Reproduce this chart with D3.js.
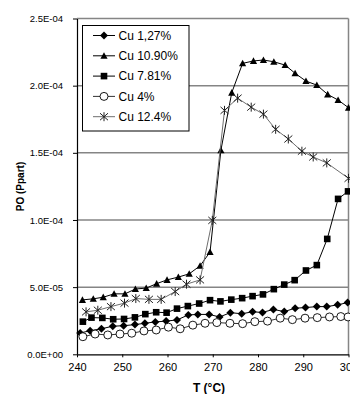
<!DOCTYPE html>
<html>
<head>
<meta charset="utf-8">
<script src="https://cdn.jsdelivr.net/npm/d3@7"></script>
<style>
  body { margin: 0; background: #fff; }
  svg { display: block; font-family: "Liberation Sans", Arial, sans-serif; }
</style>
</head>
<body>
<div id="chart"></div>
<script>
// Cu 1,27% (diamonds)
const tempCu127 = [240.7, 242.9, 245.4, 247.9, 250.3, 252.8, 255.0, 257.3, 259.7, 262.1, 264.6, 266.7, 269.2,
    271.5, 273.9, 276.4, 278.8, 281.0, 283.4, 285.8, 288.2, 290.5, 293.0, 295.2, 297.6, 299.8];
const poCu127 = [1.59, 1.75, 1.90, 2.09, 2.13, 2.21, 2.31, 2.41, 2.47, 2.56, 2.93, 2.97, 2.97,
    2.78, 3.10, 3.02, 3.16, 3.12, 3.34, 3.18, 3.43, 3.48, 3.55, 3.55, 3.68, 3.85];

// Cu 10.90% (triangles)
const tempCu1090 = [241.2, 243.6, 245.8, 248.2, 250.6, 252.9, 255.3, 257.6, 259.9, 262.4, 264.8, 267.2, 269.4,
    271.8, 274.2, 276.6, 279.0, 281.2, 283.5, 286.0, 288.2, 290.6, 293.0, 295.4, 297.7, 300.0];
const poCu1090 = [4.05, 4.13, 4.25, 4.50, 4.50, 4.86, 4.93, 5.26, 5.54, 5.75, 5.99, 6.59, 7.61,
    15.19, 19.48, 21.66, 21.84, 21.91, 21.78, 21.53, 20.92, 20.34, 20.04, 19.35, 18.93, 18.36];

// Cu 7.81% (squares)
const tempCu781 = [241.3, 243.2, 245.6, 248.0, 250.4, 252.8, 255.1, 257.5, 259.8, 262.1, 264.5, 267.0, 269.4,
    271.7, 274.1, 276.5, 278.8, 281.1, 283.5, 285.8, 288.1, 290.6, 293.0, 295.3, 297.7, 299.9];
const poCu781 = [2.43, 2.73, 2.71, 2.61, 2.63, 2.75, 2.99, 3.13, 3.10, 3.40, 3.59, 3.78, 4.03,
    3.94, 4.07, 4.18, 4.33, 4.46, 4.85, 5.19, 5.52, 6.24, 6.64, 8.59, 11.57, 12.13];

// Cu 4% (open circles)
const tempCu4 = [241.3, 244.0, 246.8, 249.5, 252.1, 254.8, 257.5, 260.2, 262.8, 265.6, 268.3, 270.9,
    273.8, 276.6, 279.3, 282.1, 284.9, 287.6, 290.4, 293.1, 295.8, 298.3, 299.9];
const poCu4 = [1.31, 1.51, 1.44, 1.51, 1.57, 1.74, 1.81, 2.02, 1.90, 2.17, 2.31, 2.36,
    2.31, 2.28, 2.43, 2.47, 2.69, 2.58, 2.69, 2.73, 2.78, 2.81, 2.78];

// Cu 12.4% (asterisks)
const tempCu124 = [242.0, 244.6, 247.5, 250.5, 253.0, 255.9, 258.6, 261.7, 264.2, 267.2, 269.9, 272.6,
    275.5, 278.5, 281.2, 283.9, 286.7, 289.7, 292.2, 295.2, 300.0];
const poCu124 = [3.16, 3.28, 3.55, 3.81, 4.15, 4.09, 4.09, 4.67, 5.22, 5.54, 9.97, 18.16,
    19.07, 18.40, 17.88, 16.75, 16.03, 15.12, 14.69, 14.25, 13.10];

const seriesNames = ['Cu 1,27%', 'Cu 10.90%', 'Cu 7.81%', 'Cu 4%', 'Cu 12.4%'];
const yTicks = [0, 5e-5, 1e-4, 1.5e-4, 2e-4, 2.5e-4];
const xTicks = [240, 250, 260, 270, 280, 290, 300];

const scaleE5 = v => v * 1e-5;
const series = [
    { name: seriesNames[0], temps: tempCu127, values: poCu127, marker: 'diamond', line: '#000' },
    { name: seriesNames[1], temps: tempCu1090, values: poCu1090, marker: 'triangle', line: '#000' },
    { name: seriesNames[2], temps: tempCu781, values: poCu781, marker: 'square', line: '#000' },
    { name: seriesNames[3], temps: tempCu4, values: poCu4, marker: 'circle', line: '#333' },
    { name: seriesNames[4], temps: tempCu124, values: poCu124, marker: 'star', line: '#6e6e6e' }
];

const width = 350;
const height = 394;
const plot = { left: 77, right: 348.5, top: 18.5, bottom: 354.3 };

const svg = d3.select('#chart').append('svg')
    .attr('width', width)
    .attr('height', height);

const xScale = d3.scaleLinear()
    .domain([240, 300])
    .range([plot.left, plot.right]);

const yScale = d3.scaleLinear()
    .domain([0, 2.5e-4])
    .range([plot.bottom, plot.top]);

function sciFormat(v) {
    const parts = v.toExponential(1).split('e');
    const exp = parseInt(parts[1], 10);
    const sign = exp < 0 ? '-' : '+';
    return parts[0] + 'E' + sign + String(Math.abs(exp)).padStart(2, '0');
}

// gridlines
svg.append('g')
    .selectAll('line')
    .data(yTicks.filter(t => t > 0))
    .enter()
    .append('line')
    .attr('x1', plot.left)
    .attr('x2', plot.right)
    .attr('y1', d => yScale(d))
    .attr('y2', d => yScale(d))
    .attr('stroke', '#858585')
    .attr('stroke-width', 1.5);

// right border
svg.append('line')
    .attr('x1', plot.right).attr('x2', plot.right)
    .attr('y1', plot.top).attr('y2', plot.bottom)
    .attr('stroke', '#858585')
    .attr('stroke-width', 1.5);

// y axis
const yAxis = svg.append('g')
    .attr('transform', `translate(${plot.left}, 0)`)
    .call(d3.axisLeft(yScale).tickValues(yTicks).tickFormat(sciFormat).tickSize(4).tickSizeOuter(0).tickPadding(10));
yAxis.select('.domain').attr('stroke', '#000').attr('stroke-width', 1.2);
yAxis.selectAll('.tick line').attr('stroke', '#000');
yAxis.selectAll('text')
    .style('font-size', '9.5px')
    .style('font-family', '"Liberation Sans", Arial, sans-serif')
    .attr('fill', '#000');

// x axis
const xAxis = svg.append('g')
    .attr('transform', `translate(0, ${plot.bottom})`)
    .call(d3.axisBottom(xScale).tickValues(xTicks).tickSize(3).tickSizeOuter(0).tickPadding(6));
xAxis.select('.domain').attr('stroke', '#000').attr('stroke-width', 1.2);
xAxis.selectAll('.tick line').attr('stroke', '#000');
xAxis.selectAll('text')
    .style('font-size', '11px')
    .style('font-family', '"Liberation Sans", Arial, sans-serif')
    .attr('fill', '#000');

// axis titles
svg.append('text')
    .attr('x', 209)
    .attr('y', 392)
    .attr('text-anchor', 'middle')
    .style('font-size', '12px')
    .style('font-weight', 'bold')
    .text('T (°C)');

svg.append('text')
    .attr('transform', `translate(23.5, 186.5)rotate(-90)`)
    .attr('text-anchor', 'middle')
    .style('font-size', '10px')
    .style('font-weight', 'bold')
    .text('PO (Ppart)');

function drawMarker(sel, type) {
    if (type === 'diamond') {
        sel.append('path').attr('d', 'M0,-4L4,0L0,4L-4,0Z').attr('fill', '#000');
    } else if (type === 'triangle') {
        sel.append('path').attr('d', 'M0,-3.6L3.6,3L-3.6,3Z').attr('fill', '#000');
    } else if (type === 'square') {
        sel.append('rect').attr('x', -3.3).attr('y', -3.3).attr('width', 6.6).attr('height', 6.6).attr('fill', '#000');
    } else if (type === 'circle') {
        sel.append('circle').attr('r', 4).attr('fill', '#fff').attr('stroke', '#000').attr('stroke-width', 0.9);
    } else if (type === 'star') {
        sel.append('path').attr('d', 'M-4,-3.5L4,3.5M-4,3.5L4,-3.5M0,-4.5L0,4.5')
            .attr('fill', 'none').attr('stroke', '#222').attr('stroke-width', 1);
    }
}

svg.append('clipPath').attr('id', 'plot-clip')
    .append('rect')
    .attr('x', plot.left).attr('y', plot.top)
    .attr('width', plot.right - plot.left + 6).attr('height', plot.bottom - plot.top);

const lineGen = d3.line()
    .x(d => xScale(d.t))
    .y(d => yScale(d.v));

const canvas = svg.append('g');

series.forEach(s => {
    const pts = s.temps.map((t, i) => ({ t: t, v: scaleE5(s.values[i]) }));
    const g = canvas.append('g');
    g.append('path')
        .datum(pts)
        .attr('d', lineGen)
        .attr('fill', 'none')
        .attr('stroke', s.line)
        .attr('stroke-width', 1);
    g.selectAll('g.pt')
        .data(pts)
        .enter()
        .append('g')
        .attr('class', 'pt')
        .attr('transform', d => `translate(${xScale(d.t)}, ${yScale(d.v)})`)
        .each(function () { drawMarker(d3.select(this), s.marker); });
});

// legend
const legend = svg.append('g');
legend.append('rect')
    .attr('x', 82.5).attr('y', 25.5)
    .attr('width', 106.5).attr('height', 105.5)
    .attr('fill', '#fff')
    .attr('stroke', '#000')
    .attr('stroke-width', 1);

const legendRows = legend.selectAll('g.row')
    .data(series)
    .enter()
    .append('g')
    .attr('class', 'row')
    .attr('transform', (d, i) => `translate(0, ${35.5 + i * 20.3})`);

legendRows.append('line')
    .attr('x1', 93).attr('x2', 115)
    .attr('stroke', d => d.line)
    .attr('stroke-width', 1);
legendRows.append('g')
    .attr('transform', 'translate(104, 0)')
    .each(function (d) { drawMarker(d3.select(this), d.marker); });
legendRows.append('text')
    .attr('x', 118.5)
    .attr('y', 4.3)
    .style('font-size', '12px')
    .text(d => d.name);
</script>
</body>
</html>
